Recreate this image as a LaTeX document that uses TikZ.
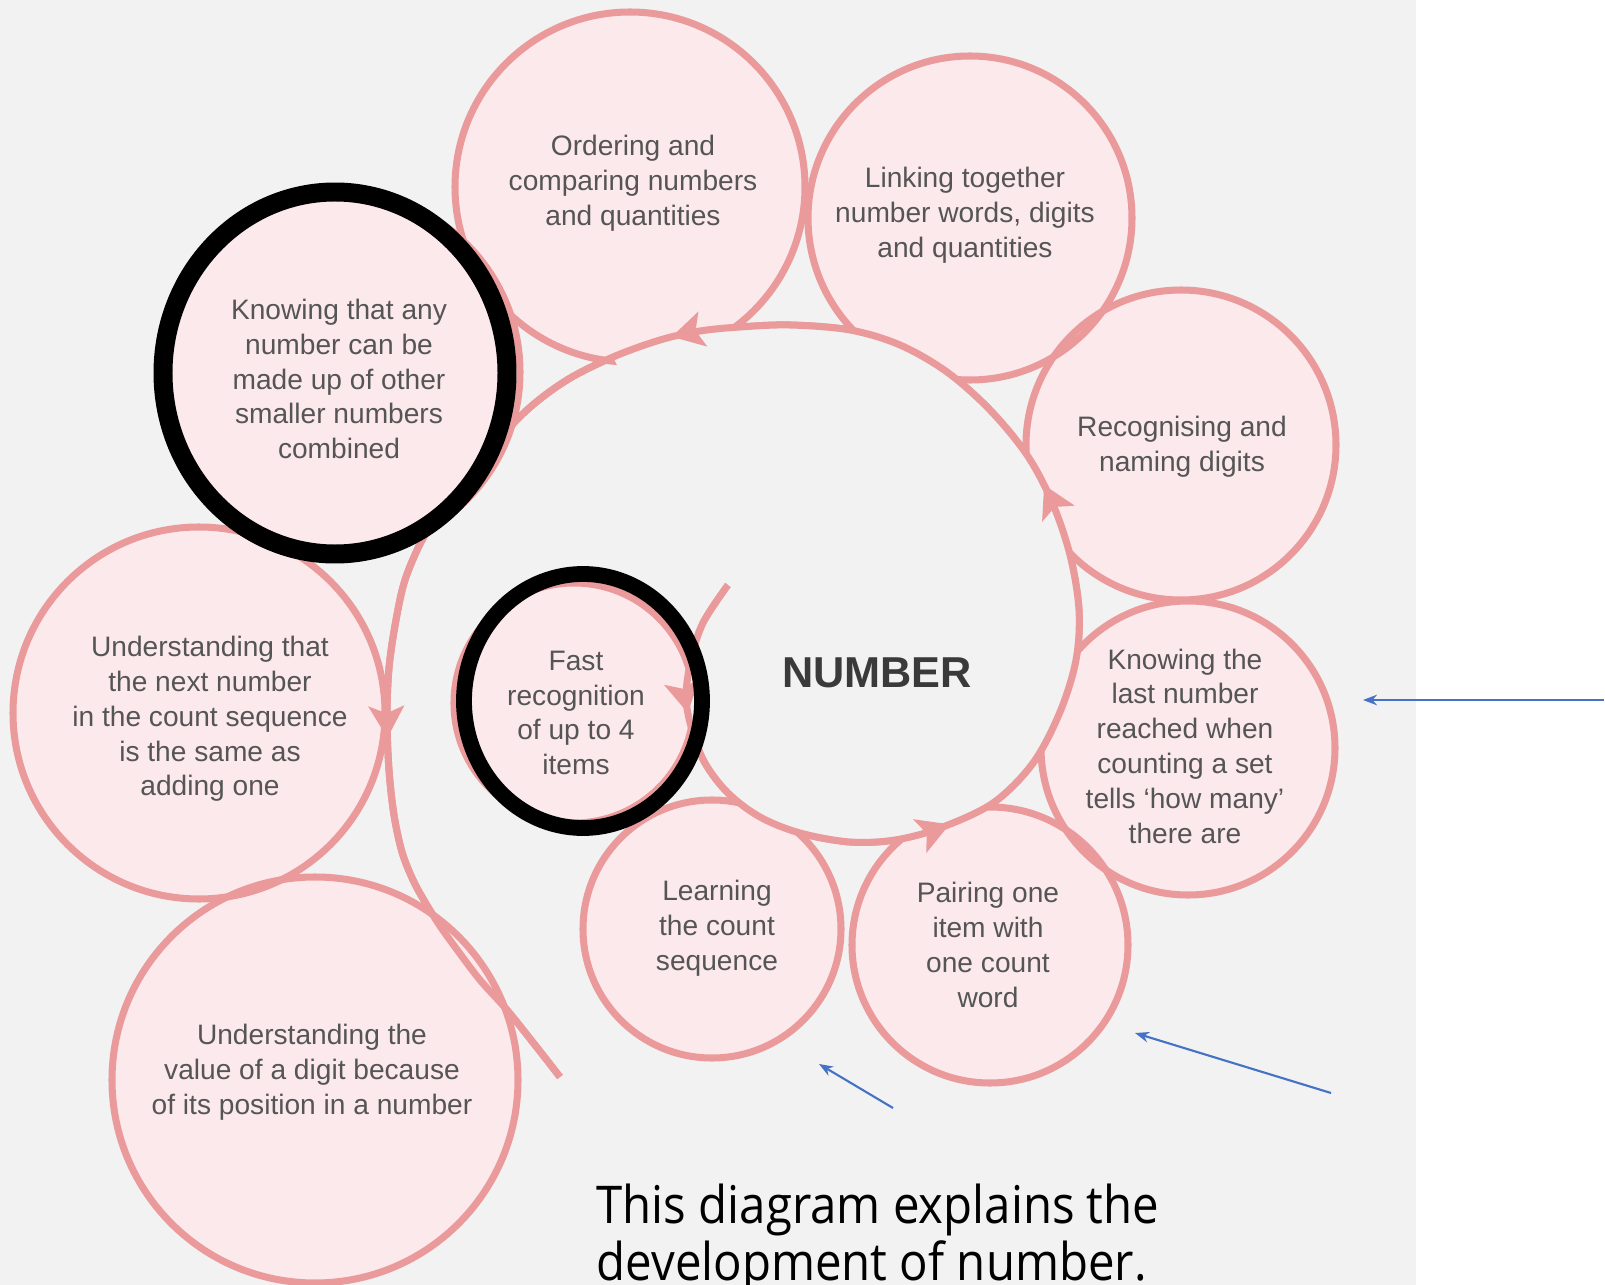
\documentclass[tikz,border=0pt]{standalone}
\usepackage{fontspec}
\setmainfont{Liberation Sans}
\newfontfamily\handfont[FakeStretch=0.91]{Open Sans}
\usetikzlibrary{decorations.markings, arrows.meta}
\definecolor{bgc}{HTML}{F2F2F2}
\definecolor{pinkc}{HTML}{EA9A9B}
\definecolor{pinkf}{HTML}{FCE9EC}
\definecolor{txtc}{HTML}{555555}
\definecolor{numc}{HTML}{3A3A3A}
\definecolor{bluec}{HTML}{4472C4}
\begin{document}
\begin{tikzpicture}[x=0.01cm, y=-0.01cm,
  pinkline/.style={draw=pinkc, line width=2pt},
  bubbletext/.style={align=center, text=txtc, font=\fontsize{8}{9.9}\selectfont, inner sep=0pt},
  blackring/.style={draw=black, line width=5pt},
  bluearrow/.style={draw=bluec, line width=0.6pt, -{Stealth[length=4pt,width=3pt]}},
  spiralline/.style={draw=pinkc, line width=2pt},
  spiraltip/.style={pinkc},
  handtext/.style={anchor=base west, inner sep=0pt, font=\handfont\fontsize{14.8}{16.2}\selectfont, text=black}]
\useasboundingbox (0,0) rectangle (1605,1285);
\fill[white] (0,0) rectangle (1605,1285);
\fill[bgc] (0,0) rectangle (1416,1285);

% spiral (drawn under the bubbles)
\draw[spiralline] plot[smooth, tension=0.55] coordinates {
 (728,585) (703,623) (691,660) (686,697) (692,730) (705,763) (728,793) (760,817)
 (800,833) (850,842) (895,840) (940,828) (993,803) (1033,763) (1060,712) (1076,660)
 (1079,610) (1070,555) (1052,502) (1027,455) (990,410) (947,372) (900,345) (850,330)
 (790,325) (740,327) (700,331) (660,340) (613,357) (567,380) (527,410) (490,450)
 (457,497) (435,522) (421,542) (405,580) (396,620) (389,668) (387,718) (389,770)
 (394,815) (402,852) (413,880) (425,902) (440,926) (458,951) (480,980) (507,1010)
 (535,1045) (560,1077)};

% bubble fills
\foreach \cx/\cy/\cr in {630/187/175, 970/218/162, 1181/445/155, 1188/748/147,
  990/945/138, 712/929/129, 574/703/120, 199/713/186, 315/1080/203, 340/372/180}
  \fill[pinkf] (\cx,\cy) circle[radius=\cr];
% bubble outlines
\foreach \cx/\cy/\cr in {630/187/175, 970/218/162, 1181/445/155, 1188/748/147,
  990/945/138, 712/929/129, 574/703/120, 199/713/186, 315/1080/203, 340/372/180}
  \draw[pinkline] (\cx,\cy) circle[radius=\cr];

% centre region of the spiral
\fill[bgc] plot[smooth, tension=0.55] coordinates {
 (728,585) (703,623) (691,660) (686,697) (692,730) (705,763) (728,793) (760,817)
 (800,833) (850,842) (895,840) (940,828) (993,803) (1033,763) (1060,712) (1076,660)
 (1079,610) (1070,555) (1052,502) (1027,455) (990,410) (947,372) (900,345) (850,330)
 (790,325) (740,327) (700,331) (660,340) (613,357)} -- cycle;

% spiral again on top, with its arrowheads
\draw[spiralline, postaction={decorate, decoration={markings,
   mark=at position 0.062 with {\arrow[spiraltip]{Stealth[length=9pt,width=10pt,inset=2pt]}},
   mark=at position 0.209 with {\arrow[spiraltip]{Stealth[length=9pt,width=10pt,inset=2pt]}},
   mark=at position 0.388 with {\arrow[spiraltip]{Stealth[length=9pt,width=10pt,inset=2pt]}},
   mark=at position 0.584 with {\arrow[spiraltip]{Stealth[length=9pt,width=10pt,inset=2pt]}},
   mark=at position 0.824 with {\arrow[spiraltip]{Stealth[length=9pt,width=10pt,inset=2pt]}}}}]
 plot[smooth, tension=0.55] coordinates {
 (728,585) (703,623) (691,660) (686,697) (692,730) (705,763) (728,793) (760,817)
 (800,833) (850,842) (895,840) (940,828) (993,803) (1033,763) (1060,712) (1076,660)
 (1079,610) (1070,555) (1052,502) (1027,455) (990,410) (947,372) (900,345) (850,330)
 (790,325) (740,327) (700,331) (660,340) (613,357) (567,380) (527,410) (490,450)
 (457,497) (435,522) (421,542) (405,580) (396,620) (389,668) (387,718) (389,770)
 (394,815) (402,852) (413,880) (425,902) (440,926) (458,951) (480,980) (507,1010)
 (535,1045) (560,1077)};

% texts
\node[bubbletext] (tord) at (633,183) {Ordering and\\comparing numbers\\and quantities};
\node[bubbletext] (tlink) at (965,215) {Linking together\\number words, digits\\and quantities};
\node[bubbletext] (trec) at (1182,447) {Recognising and\\naming digits};
\node[bubbletext] (tlast) at (1185,746) {Knowing the\\last number\\reached when\\counting a set\\tells `how many'\\there are};
\node[bubbletext] (tpair) at (988,945) {Pairing one\\item with\\one count\\word};
\node[bubbletext] (tlearn) at (717,928) {Learning\\the count\\sequence};
\node[bubbletext] (tfast) at (576,713) {Fast\\recognition\\of up to 4\\items};
\node[bubbletext] (tnext) at (210,719) {Understanding that\\the next number\\in the count sequence\\is the same as\\adding one};
\node[bubbletext] (tval) at (312,1072) {Understanding the\\value of a digit because\\of its position in a number};
\node[bubbletext] (tany) at (339,379) {Knowing that any\\number can be\\made up of other\\smaller numbers\\combined};
\node[inner sep=0pt, text=numc, font=\bfseries\fontsize{12.3}{14}\selectfont] (num) at (877,673) {NUMBER};

% black highlight rings
\draw[blackring, line width=5.4pt] (335,373) ellipse[x radius=172, y radius=181];
\draw[blackring, line width=4.5pt] (583,701) ellipse[x radius=119, y radius=127];

% blue pointer arrows
\coordinate (b1s) at (1604,700);
\coordinate (b1e) at (1363,700);
\coordinate (b2s) at (1331,1093);
\coordinate (b2e) at (1135,1033);
\coordinate (b3s) at (893,1108);
\coordinate (b3e) at (819,1064);
\draw[bluearrow] (b1s) -- (b1e);
\draw[bluearrow] (b2s) -- (b2e);
\draw[bluearrow] (b3s) -- (b3e);

% caption
\node[handtext] (cap1) at (596,1223) {This diagram explains the};
\node[handtext] (cap2) at (596,1280) {development of number.};
\end{tikzpicture}
\end{document}
